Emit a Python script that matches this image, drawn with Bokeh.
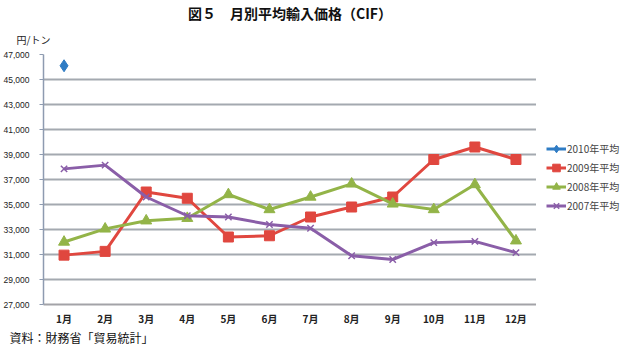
import numpy as np
from bokeh.plotting import figure
from bokeh.layouts import row
from bokeh.models import (ColumnDataSource, Range1d, FactorRange, FixedTicker,
                          NumeralTickFormatter, Legend, LegendItem, Title)
from bokeh.embed import file_html
from bokeh.resources import INLINE

months = ["1月", "2月", "3月", "4月", "5月", "6月", "7月", "8月", "9月", "10月", "11月", "12月"]
nan = np.nan
y2010 = [46100, nan, nan, nan, nan, nan, nan, nan, nan, nan, nan, nan]
y2009 = [30950, 31250, 36000, 35500, 32400, 32500, 34000, 34800, 35600, 38600, 39600, 38600]
y2008 = [32000, 33050, 33700, 33900, 35800, 34600, 35600, 36650, 35050, 34600, 36600, 32100]
y2007 = [37850, 38150, 35600, 34100, 34000, 33400, 33100, 30900, 30600, 31950, 32050, 31150]
series_names = ["2010年平均", "2009年平均", "2008年平均", "2007年平均"]
y_ticks = list(range(27000, 47001, 2000))

title_text = "図５　月別平均輸入価格（CIF）"
unit_text = "円/トン"
source_text = "資料：財務省「貿易統計」"

src = ColumnDataSource(dict(m=months, a=y2010, b=y2009, c=y2008, d=y2007))

p = figure(width=536, height=353, output_backend="svg", toolbar_location=None,
           x_range=FactorRange(*months, range_padding=0),
           y_range=Range1d(27000, 47000),
           min_border_left=39, min_border_right=0, min_border_top=54, min_border_bottom=49,
           title=title_text)
p.outline_line_color = None
p.background_fill_color = "white"
p.border_fill_color = "white"
p.title.align = "center"
p.title.offset = 3
p.title.text_font = "Noto Sans CJK JP"
p.title.text_font_size = "14px"
p.title.text_font_style = "bold"
p.title.text_color = "#111111"
p.title.standoff = 0

p.add_layout(Title(text=unit_text, align="left", offset=-27, standoff=15,
                   text_font="Noto Sans CJK JP", text_font_size="10px",
                   text_font_style="normal", text_color="#222222"), "above")
p.add_layout(Title(text=source_text, align="left", offset=-34, standoff=0,
                   vertical_align="top",
                   text_font="Noto Sans CJK JP", text_font_size="12px",
                   text_font_style="normal", text_color="#111111"), "below")

cols = ["#2f7cc4", "#e0473f", "#93b448", "#8a5ea8"]
fields = ["a", "b", "c", "d"]
markers = ["diamond", "square", "triangle", "x"]
sizes = [12, 10, 11, 9]

# legend panel: a narrow companion figure whose copies of the series lie outside its view
pl = figure(width=84, height=353, output_backend="svg", toolbar_location=None,
            x_range=FactorRange(*months), y_range=Range1d(0, 1),
            min_border=0, x_axis_type=None, y_axis_type=None)
pl.outline_line_color = None
pl.xgrid.grid_line_color = None
pl.ygrid.grid_line_color = None
src2 = ColumnDataSource(dict(m=months, a=y2010, b=y2009, c=y2008, d=y2007))

items = []
for f, col, mk, sz, name in zip(fields, cols, markers, sizes, series_names):
    for fig, s, store in ((p, src, False), (pl, src2, True)):
        ln = fig.line("m", f, source=s, line_color=col, line_width=3)
        if mk == "x":
            sc = fig.scatter("m", f, source=s, marker=mk, size=sz, line_color=col, line_width=1.5)
        else:
            sc = fig.scatter("m", f, source=s, marker=mk, size=sz, fill_color=col, line_color=col)
        if store:
            items.append(LegendItem(label=name, renderers=[ln, sc]))

legend = Legend(items=items, location=(10, 89), border_line_color=None,
                background_fill_alpha=0, label_text_font="Noto Sans CJK JP",
                label_text_font_size="10px", glyph_width=20, glyph_height=19,
                label_height=19, spacing=0, padding=0, margin=0, label_standoff=1)
pl.add_layout(legend)

# y axis
p.yaxis.ticker = FixedTicker(ticks=y_ticks)
p.yaxis.formatter = NumeralTickFormatter(format="0,0")
p.yaxis.major_label_text_font = "Liberation Sans"
p.yaxis.major_label_text_font_size = "8.5px"
p.yaxis.major_label_text_color = "#222222"
p.yaxis.axis_line_color = "#8e9bb0"
p.yaxis.axis_line_width = 1.5
p.yaxis.major_tick_line_color = "#8e9bb0"
p.yaxis.major_tick_out = 4
p.yaxis.major_tick_in = 0
p.yaxis.minor_tick_line_color = None
p.yaxis.major_label_standoff = 10

# x axis
p.xaxis.axis_line_color = "#a3a3a8"
p.xaxis.axis_line_width = 2
p.xaxis.major_tick_line_color = None
p.xaxis.minor_tick_line_color = None
p.xaxis.major_label_text_font = "Noto Sans CJK JP"
p.xaxis.major_label_text_font_size = "10px"
p.xaxis.major_label_text_font_style = "bold"
p.xaxis.major_label_text_color = "#222222"
p.xaxis.major_label_standoff = 0

p.xgrid.grid_line_color = None
p.ygrid.grid_line_color = "#a4a9b0"
p.ygrid.grid_line_width = 2

layout = row(p, pl)
open("out.html", "w").write(file_html(layout, INLINE))
